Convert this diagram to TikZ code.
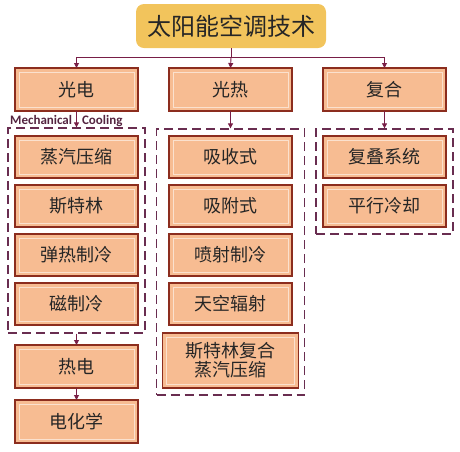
\documentclass[tikz,border=0pt]{standalone}
\usepackage{fontspec}
\newfontfamily\cjk{Noto Sans CJK SC}
\newfontfamily\lat{Carlito}
\usepackage{tikz}
\usetikzlibrary{arrows.meta,
                fit,
                positioning}
\definecolor{boxfill}{RGB}{247,188,146}
\definecolor{boxline}{RGB}{140,45,30}
\definecolor{titlefill}{RGB}{242,196,92}
\definecolor{framecol}{RGB}{105,45,80}
\definecolor{conncol}{RGB}{120,30,70}
\begin{document}
\begin{tikzpicture}[
x=1pt, y=-1pt,
node distance = 7pt,
   BOX/.style = {draw=boxline, line width=1.6pt, fill=boxfill,
                 minimum width=123pt, minimum height=42pt,
                 inner sep=0pt, outer sep=0pt, align=center,
                 font=\cjk\fontsize{18}{22}\selectfont, text=black!85,
                 path picture={\draw[white!55!boxfill, line width=0.8pt]
                   ([shift={(4pt,-4pt)}]path picture bounding box.north west)
                   rectangle
                   ([shift={(-4pt,4pt)}]path picture bounding box.south east);}},
 FRAME/.style = {draw=framecol, line width=1.3pt,
                 dash pattern=on 9pt off 5pt, inner sep=7pt},
  CONN/.style = {draw=conncol, line width=0.9pt},
   ARR/.style = {CONN, -{Triangle[length=5pt, width=5pt]}}
                        ]
\useasboundingbox (0,0) rectangle (460,451);
% title
\node (title) [fill=titlefill, rounded corners=8pt,
               minimum width=190pt, minimum height=44pt,
               font=\cjk\fontsize{24}{28}\selectfont, text=black!85]
      at (231,26) {太阳能空调技术};
% first level
\node (pv) [BOX, minimum height=43pt] at (76.5,89.5)  {光电};
\node (pt) [BOX, minimum height=43pt] at (230.5,89.5) {光热};
\node (hy) [BOX, minimum height=43pt] at (384.5,89.5) {复合};
% left column
\node (vc) [BOX] at (76.5,157) {蒸汽压缩};
\node (st) [BOX, below=of vc] {斯特林};
\node (ec) [BOX, below=of st] {弹热制冷};
\node (mc) [BOX, below=of ec] {磁制冷};
\node (fL) [FRAME, fit=(vc) (mc), inner ysep=8pt] {};
\node (te) [BOX, minimum height=43pt] at (76.5,366.5) {热电};
\node (el) [BOX, minimum height=43pt, below=12pt of te] {电化学};
% middle column
\node (ab) [BOX] at (230.5,157) {吸收式};
\node (ad) [BOX, below=of ab] {吸附式};
\node (ej) [BOX, below=of ad] {喷射制冷};
\node (sr) [BOX, below=of ej] {天空辐射};
\node (sv) [BOX, minimum width=136pt, minimum height=55pt,
            below=8pt of sr] {斯特林复合\\[-3pt]蒸汽压缩};
\node (fM) [FRAME, fit=(ab) (sv), inner xsep=6pt] {};
% right column
\node (cs) [BOX] at (384.5,157) {复叠系统};
\node (pc) [BOX, below=of cs] {平行冷却};
\node (fR) [FRAME, fit=(cs) (pc)] {};
% label
\node (mech) [anchor=south west, inner sep=0pt,
              font=\lat\bfseries\fontsize{13}{15}\selectfont,
              text=framecol!80!black]
      at (10,127) {Mechanical\hspace{10pt}Cooling};
% connectors
\draw[CONN] (title.south) -- ++(0,9) coordinate (hub);
\draw[ARR] (hub) -| (pv.north);
\draw[ARR] (hub) -- (pt.north);
\draw[ARR] (hub) -| (hy.north);
\draw[ARR] (pv.south) -- (fL.north);
\draw[ARR] (pt.south) -- (fM.north);
\draw[ARR] (hy.south) -- (fR.north);
\draw[ARR] (fL.south) -- (te.north);
\draw[ARR] (te.south) -- (el.north);
\end{tikzpicture}
\end{document}
